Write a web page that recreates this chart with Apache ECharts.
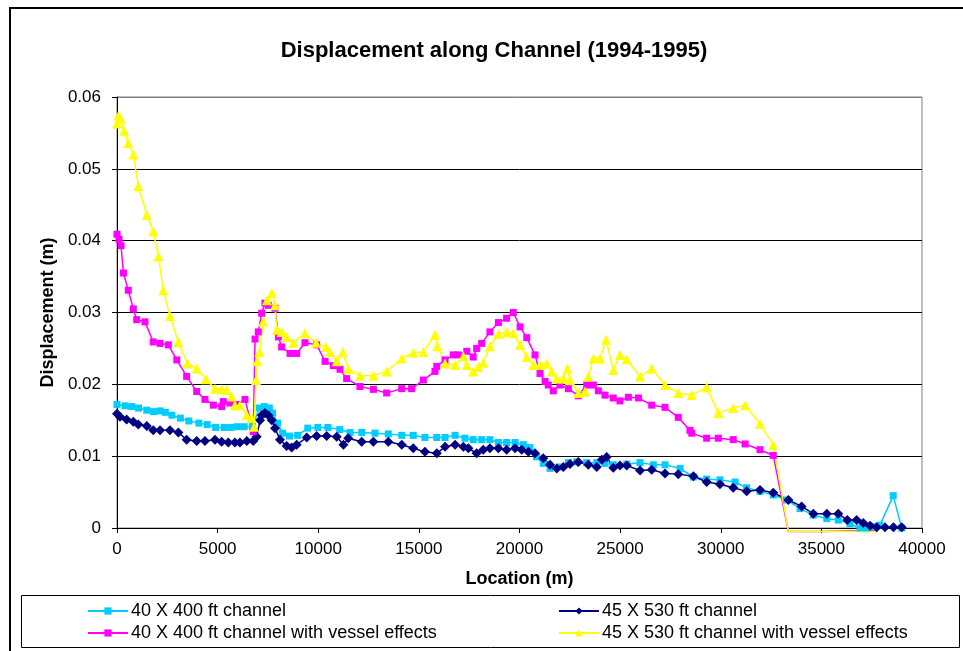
<!DOCTYPE html>
<html>
<head>
<meta charset="utf-8">
<title>Displacement along Channel (1994-1995)</title>
<script src="https://cdn.jsdelivr.net/npm/echarts@6/dist/echarts.min.js"></script>
<style>
  html, body { margin: 0; padding: 0; background: #fff; }
  #chart { width: 963px; height: 651px; }
</style>
</head>
<body>
<div id="chart"></div>
<script>
// location (m) and displacement (m), one pair of arrays per series

var locA = [0, 400, 730, 1070, 1480, 1820, 2150, 2400, 2730, 3150, 3570, 4070, 4480, 4900, 5320, 5650, 5980, 6320, 6730,
  7070, 7320, 7570, 7730, 7980, 8230, 8570, 8980, 9480, 9980, 10480, 11070, 11580, 12160, 12820, 13480, 14150, 14720,
  15300, 15890, 16300, 16800, 17290, 17700, 18120, 18530, 18950, 19360, 19780, 20190, 20520, 20850, 21180, 21520,
  22010, 22430, 22840, 23340, 23840, 24250, 24660, 25330, 25990, 26650, 27230, 27980, 28640, 29300, 29960, 30710,
  31290, 31950, 32610, 33280, 33940, 34600, 35270, 35840, 36420, 36920, 37250, 37660, 37910, 38570, 38990];
var dispA = [0.0172, 0.0170, 0.0169, 0.0167, 0.0164, 0.0162, 0.0163, 0.0161, 0.0157, 0.0153, 0.0149, 0.0146, 0.0144, 0.0140, 0.0140, 0.0140, 0.0141, 0.0141, 0.0141,
  0.0167, 0.0169, 0.0167, 0.0160, 0.0146, 0.0132, 0.0128, 0.0129, 0.0139, 0.0140, 0.0140, 0.0137, 0.0133, 0.0133, 0.0132, 0.0131, 0.0129, 0.0129,
  0.0126, 0.0126, 0.0126, 0.0129, 0.0125, 0.0123, 0.0123, 0.0123, 0.0119, 0.0119, 0.0119, 0.0116, 0.0112, 0.0099, 0.0090, 0.0083,
  0.0085, 0.0091, 0.0092, 0.0091, 0.0091, 0.0090, 0.0088, 0.0089, 0.0091, 0.0088, 0.0088, 0.0083, 0.0071, 0.0068, 0.0067, 0.0064,
  0.0056, 0.0051, 0.0046, 0.0039, 0.0027, 0.0018, 0.0013, 0.0011, 0.0006, 0.0000, 0.0000, 0.0002, 0.0004, 0.0045, 0.0000];

var locB = [0, 150, 480, 810, 1060, 1480, 1800, 2140, 2630, 3050, 3460, 3960, 4370, 4870, 5200, 5530, 5860, 6110, 6450, 6770,
  6940, 7110, 7190, 7350, 7520, 7690, 7850, 8100, 8430, 8680, 8930, 9430, 9920, 10420, 10920, 11250, 11490, 12160, 12740,
  13480, 14150, 14720, 15300, 15890, 16300, 16800, 17210, 17460, 17870, 18200, 18530, 18950, 19360, 19780, 20110, 20440,
  20770, 21180, 21520, 21850, 22180, 22510, 22920, 23420, 23840, 24090, 24330, 24660, 24990, 25330, 25990, 26570, 27230,
  27890, 28640, 29300, 29960, 30620, 31290, 31950, 32610, 33360, 34020, 34600, 35270, 35840, 36290, 36750, 37080, 37420,
  37750, 38160, 38580, 38990];
var dispB = [0.0159, 0.0155, 0.0151, 0.0148, 0.0144, 0.0142, 0.0136, 0.0136, 0.0136, 0.0133, 0.0123, 0.0121, 0.0121, 0.0123, 0.0120, 0.0119, 0.0119, 0.0119, 0.0121, 0.0121,
  0.0127, 0.0150, 0.0157, 0.0160, 0.0157, 0.0150, 0.0139, 0.0123, 0.0114, 0.0112, 0.0116, 0.0126, 0.0128, 0.0128, 0.0127, 0.0116, 0.0125, 0.0120, 0.0120,
  0.0120, 0.0116, 0.0111, 0.0106, 0.0104, 0.0113, 0.0116, 0.0113, 0.0111, 0.0104, 0.0109, 0.0111, 0.0111, 0.0109, 0.0111, 0.0109, 0.0106,
  0.0104, 0.0097, 0.0088, 0.0083, 0.0085, 0.0089, 0.0092, 0.0088, 0.0085, 0.0095, 0.0099, 0.0084, 0.0087, 0.0087, 0.0080, 0.0081, 0.0076,
  0.0075, 0.0072, 0.0064, 0.0061, 0.0056, 0.0051, 0.0053, 0.0049, 0.0039, 0.0030, 0.0020, 0.0020, 0.0020, 0.0011, 0.0011, 0.0007, 0.0003,
  0.0001, 0.0001, 0.0001, 0.0001];

var locC = [0, 100, 200, 320, 560, 810, 980, 1390, 1800, 2140, 2550, 2970, 3460, 3960, 4370, 4790, 5200, 5280, 5620, 5950, 6360,
  6770, 6860, 7020, 7190, 7350, 7520, 7850, 8020, 8180, 8600, 8930, 9340, 9920, 10340, 10750, 11080, 11410, 12070, 12740,
  13400, 14150, 14640, 15220, 15800, 15890, 16300, 16710, 16960, 17380, 17700, 17870, 18120, 18530, 18950, 19360, 19690,
  20030, 20360, 20770, 21020, 21270, 21430, 21680, 22010, 22430, 22920, 23340, 23670, 23920, 24250, 24660, 24990, 25410,
  25910, 26570, 27230, 27890, 28470, 28560, 29300, 29880, 30620, 31210, 31950, 32610, 33360, 35100, 35150, 37800];
var dispC = [0.0409, 0.0402, 0.0393, 0.0355, 0.0331, 0.0305, 0.0290, 0.0287, 0.0259, 0.0257, 0.0255, 0.0234, 0.0211, 0.0190, 0.0179, 0.0171, 0.0169, 0.0176, 0.0174, 0.0172, 0.0179,
  0.0134, 0.0263, 0.0273, 0.0299, 0.0313, 0.0310, 0.0306, 0.0266, 0.0252, 0.0243, 0.0243, 0.0258, 0.0255, 0.0232, 0.0226, 0.0221, 0.0208, 0.0197, 0.0193,
  0.0188, 0.0194, 0.0194, 0.0206, 0.0218, 0.0225, 0.0234, 0.0241, 0.0241, 0.0246, 0.0238, 0.0250, 0.0257, 0.0273, 0.0286, 0.0292, 0.0300,
  0.0280, 0.0265, 0.0241, 0.0215, 0.0204, 0.0199, 0.0191, 0.0199, 0.0194, 0.0184, 0.0199, 0.0199, 0.0191, 0.0185, 0.0181, 0.0177, 0.0182,
  0.0181, 0.0171, 0.0168, 0.0154, 0.0136, 0.0132, 0.0125, 0.0125, 0.0123, 0.0117, 0.0109, 0.0101, -0.0005, -0.0005, -0.0003, -0.0003];

var locD = [0, 70, 180, 350, 560, 810, 1060, 1480, 1800, 2060, 2300, 2630, 3050, 3500, 3960, 4420, 4870, 5200, 5450, 5700, 5860,
  6110, 6450, 6690, 6810, 6910, 6970, 7070, 7270, 7450, 7690, 7850, 7940, 8180, 8430, 8760, 9340, 9890, 10390, 10580,
  10920, 11220, 11490, 12070, 12740, 13400, 14150, 14720, 15220, 15800, 15920, 16300, 16800, 17210, 17380, 17700, 17950,
  18200, 18530, 18950, 19360, 19690, 20030, 20360, 20690, 21020, 21350, 21600, 21850, 22180, 22380, 22510, 22920, 23260,
  23420, 23670, 24000, 24300, 24660, 24990, 25330, 25990, 26570, 27230, 27890, 28560, 29300, 29880, 30620, 31210, 31950,
  32610, 33360, 37800];
var dispD = [0.0563, 0.0574, 0.0570, 0.0553, 0.0536, 0.0520, 0.0476, 0.0436, 0.0413, 0.0378, 0.0331, 0.0295, 0.0259, 0.0229, 0.0222, 0.0207, 0.0194, 0.0193, 0.0192, 0.0183, 0.0171,
  0.0171, 0.0157, 0.0153, 0.0141, 0.0206, 0.0232, 0.0245, 0.0287, 0.0317, 0.0327, 0.0310, 0.0276, 0.0273, 0.0266, 0.0258, 0.0271, 0.0258, 0.0252, 0.0245,
  0.0232, 0.0245, 0.0221, 0.0212, 0.0212, 0.0218, 0.0236, 0.0244, 0.0245, 0.0269, 0.0253, 0.0229, 0.0227, 0.0239, 0.0227, 0.0218, 0.0224,
  0.0230, 0.0253, 0.0270, 0.0273, 0.0271, 0.0255, 0.0238, 0.0227, 0.0227, 0.0229, 0.0218, 0.0208, 0.0208, 0.0222, 0.0206, 0.0188, 0.0190,
  0.0211, 0.0236, 0.0236, 0.0262, 0.0220, 0.0241, 0.0235, 0.0211, 0.0222, 0.0199, 0.0188, 0.0185, 0.0196, 0.0160, 0.0167, 0.0171, 0.0145,
  0.0116, -0.0005, -0.0005];

var seriesNames = ['40 X 400 ft channel', '45 X 530 ft channel',
  '40 X 400 ft channel with vessel effects', '45 X 530 ft channel with vessel effects'];
var xTicks = [0, 40000, 5000];
var yTicks = [0, 0.06, 0.01];

// points under the axis keep their line but lose the marker, as in the original
function pairs(xs, ys) {
  return xs.map(function (x, i) {
    var p = { value: [x, ys[i]] };
    if (ys[i] < 0) p.symbol = 'none';
    return p;
  });
}

var font = 'Liberation Sans, Arial, sans-serif';

function lineSeries(name, xs, ys, color, symbol, size) {
  return {
    name: name,
    type: 'line',
    data: pairs(xs, ys),
    symbol: symbol,
    symbolSize: size,
    clip: false,
    animation: false,
    lineStyle: { color: color, width: 1.5 },
    itemStyle: { color: color, borderWidth: 0 }
  };
}

var chart = echarts.init(document.getElementById('chart'), null, { renderer: 'canvas' });

var legendText = { fontFamily: font, fontSize: 18, lineHeight: 18, color: '#000', padding: [0, 0, 0, -2] };

chart.setOption({
  backgroundColor: '#fff',
  animation: false,
  title: {
    text: 'Displacement along Channel (1994-1995)',
    left: 489, top: 35, textAlign: 'center',
    textStyle: { fontFamily: font, fontSize: 22, fontWeight: 'bold', color: '#000' }
  },
  graphic: [
    { type: 'polyline', shape: { points: [[10, 700], [10, 8], [1000, 8]] },
      style: { stroke: '#000', lineWidth: 2, fill: null }, silent: true },
    { type: 'rect', shape: { x: 21.5, y: 595.5, width: 938, height: 52 },
      style: { stroke: '#000', lineWidth: 1, fill: '#fff' }, z: -1, silent: true }
  ],
  legend: [
    { data: [seriesNames[0], seriesNames[2]], orient: 'vertical', left: 82, top: 597,
      itemWidth: 40, itemHeight: 9, itemGap: 4, textStyle: legendText },
    { data: [seriesNames[1], seriesNames[3]], orient: 'vertical', left: 553, top: 597,
      itemWidth: 40, itemHeight: 9, itemGap: 4, textStyle: legendText }
  ],
  grid: {
    left: 117, right: 41, top: 97, bottom: 123,
    show: true, borderColor: '#808080', borderWidth: 1, backgroundColor: '#fff'
  },
  xAxis: {
    type: 'value', min: xTicks[0], max: xTicks[1], interval: xTicks[2],
    name: 'Location (m)', nameLocation: 'middle', nameGap: 42,
    nameTextStyle: { fontFamily: font, fontSize: 18, fontWeight: 'bold', color: '#000' },
    axisLine: { show: true, lineStyle: { color: '#000', width: 1 } },
    axisTick: { show: true, inside: false, length: 5, lineStyle: { color: '#000' } },
    axisLabel: { fontFamily: font, fontSize: 17, color: '#000', margin: 13,
      formatter: function (v) { return String(v); } },
    splitLine: { show: false }
  },
  yAxis: {
    type: 'value', min: yTicks[0], max: yTicks[1], interval: yTicks[2],
    name: 'Displacement (m)', nameLocation: 'middle', nameGap: 60,
    nameTextStyle: { fontFamily: font, fontSize: 18, fontWeight: 'bold', color: '#000' },
    axisLine: { show: true, lineStyle: { color: '#000', width: 1 } },
    axisTick: { show: true, inside: false, length: 5, lineStyle: { color: '#000' } },
    axisLabel: { fontFamily: font, fontSize: 17, color: '#000', margin: 16,
      formatter: function (v) { return String(Math.round(v * 100) / 100); } },
    splitLine: { show: true, lineStyle: { color: ['#000', '#000', '#000', '#000', '#000', '#000', '#808080'], width: 1 } }
  },
  series: [
    lineSeries(seriesNames[0], locA, dispA, '#00CCFF', 'rect', 7),
    lineSeries(seriesNames[1], locB, dispB, '#000080', 'diamond', 10),
    lineSeries(seriesNames[2], locC, dispC, '#FF00FF', 'rect', 7),
    lineSeries(seriesNames[3], locD, dispD, '#FFFF00', 'triangle', 10)
  ]
});
</script>
</body>
</html>
